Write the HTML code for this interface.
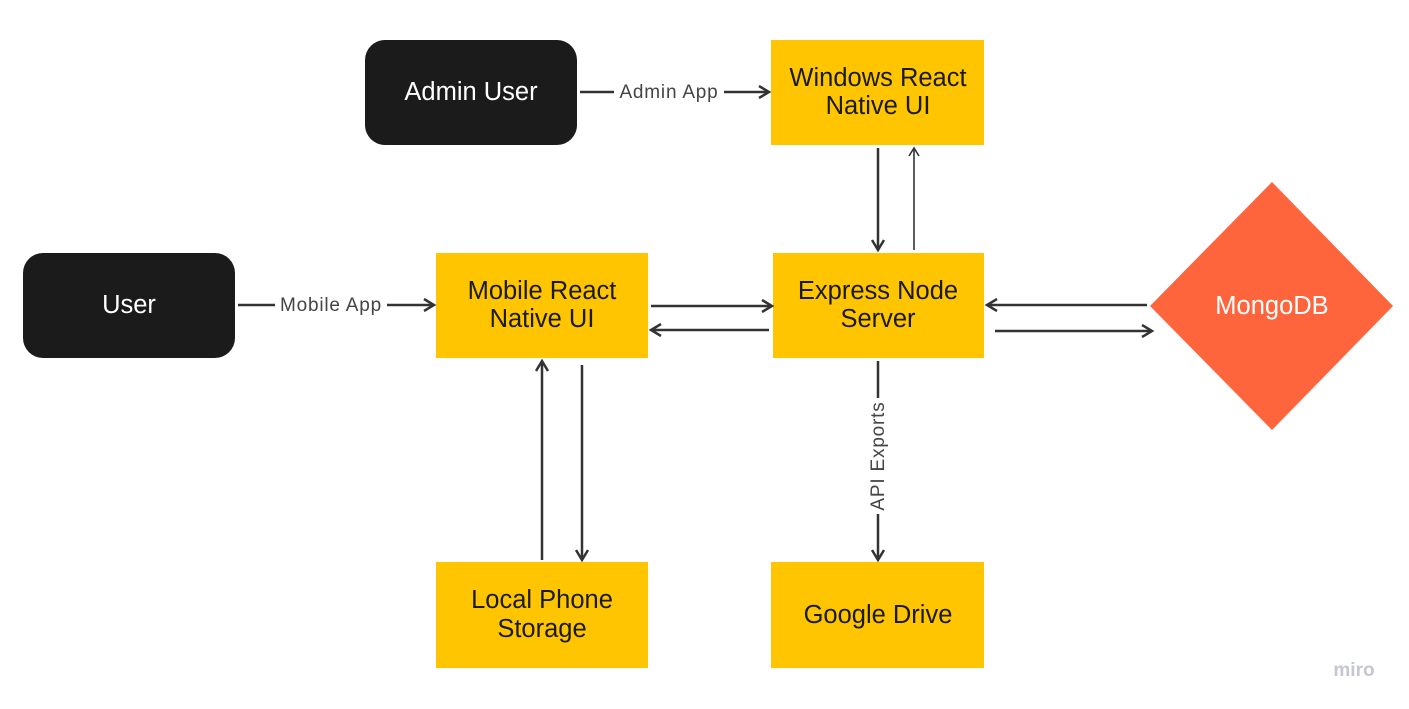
<!DOCTYPE html>
<html><head><meta charset="utf-8"><style>
html,body{margin:0;padding:0;background:#fff;}
svg{display:block;font-family:"Liberation Sans",sans-serif;}
</style></head><body>
<svg width="1409" height="709" viewBox="0 0 1409 709" xmlns="http://www.w3.org/2000/svg">
<defs>
<marker id="a" markerWidth="14" markerHeight="14" refX="11" refY="7" orient="auto" markerUnits="userSpaceOnUse">
<path d="M1,1 L11,7 L1,13" fill="none" stroke="#333" stroke-width="2.5"/>
</marker>
<marker id="t" markerWidth="14" markerHeight="14" refX="11" refY="7" orient="auto" markerUnits="userSpaceOnUse">
<path d="M3,2 L11,7 L3,12" fill="none" stroke="#333" stroke-width="1.6"/>
</marker>
</defs>
<rect width="1409" height="709" fill="#fff"/>
<rect x="365" y="40" width="212" height="105" rx="20" fill="#1b1b1b"/>
<text x="471" y="100" text-anchor="middle" font-size="25.5" fill="#fff">Admin User</text>
<rect x="23" y="253" width="212" height="105" rx="20" fill="#1b1b1b"/>
<text x="129" y="313" text-anchor="middle" font-size="25.5" fill="#fff">User</text>
<rect x="771" y="40" width="213" height="105" fill="#ffc500"/>
<text x="878" y="86" text-anchor="middle" font-size="25.5" fill="#1a1a1a">Windows React</text>
<text x="878" y="114" text-anchor="middle" font-size="25.5" fill="#1a1a1a">Native UI</text>
<rect x="436" y="253" width="212" height="105" fill="#ffc500"/>
<text x="542" y="299" text-anchor="middle" font-size="25.5" fill="#1a1a1a">Mobile React</text>
<text x="542" y="327" text-anchor="middle" font-size="25.5" fill="#1a1a1a">Native UI</text>
<rect x="773" y="253" width="211" height="105" fill="#ffc500"/>
<text x="878" y="299" text-anchor="middle" font-size="25.5" fill="#1a1a1a">Express Node</text>
<text x="878" y="327" text-anchor="middle" font-size="25.5" fill="#1a1a1a">Server</text>
<rect x="436" y="562" width="212" height="106" fill="#ffc500"/>
<text x="542" y="608" text-anchor="middle" font-size="25.5" fill="#1a1a1a">Local Phone</text>
<text x="542" y="637" text-anchor="middle" font-size="25.5" fill="#1a1a1a">Storage</text>
<rect x="771" y="562" width="213" height="106" fill="#ffc500"/>
<text x="878" y="623" text-anchor="middle" font-size="25.5" fill="#1a1a1a">Google Drive</text>
<polygon points="1272,182 1393,306 1272,430 1150,306" fill="#ff653d"/>
<text x="1272" y="314" text-anchor="middle" font-size="25.5" fill="#fff">MongoDB</text>
<g stroke="#333" stroke-width="2.5" fill="none">
<line x1="580" y1="92" x2="769" y2="92" marker-end="url(#a)"/>
<line x1="238" y1="305" x2="434" y2="305" marker-end="url(#a)"/>
<line x1="878" y1="148" x2="878" y2="250" marker-end="url(#a)"/>
<line x1="914" y1="250" x2="914" y2="148" stroke-width="1.6" marker-end="url(#t)"/>
<line x1="651" y1="306" x2="772" y2="306" marker-end="url(#a)"/>
<line x1="769" y1="330" x2="651" y2="330" marker-end="url(#a)"/>
<line x1="1147" y1="305" x2="987" y2="305" marker-end="url(#a)"/>
<line x1="995" y1="331" x2="1152" y2="331" marker-end="url(#a)"/>
<line x1="878" y1="361" x2="878" y2="560" marker-end="url(#a)"/>
<line x1="542" y1="560" x2="542" y2="361" marker-end="url(#a)"/>
<line x1="582" y1="365" x2="582" y2="560" marker-end="url(#a)"/>
</g>
<rect x="614" y="80" width="110" height="24" fill="#fff"/>
<text x="669" y="98" text-anchor="middle" font-size="19" letter-spacing="0.8" fill="#444">Admin App</text>
<rect x="275" y="293" width="112" height="24" fill="#fff"/>
<text x="331" y="311" text-anchor="middle" font-size="19" letter-spacing="0.8" fill="#444">Mobile App</text>
<rect x="866" y="398" width="24" height="116" fill="#fff"/>
<text transform="translate(884,456) rotate(-90)" text-anchor="middle" font-size="19" letter-spacing="0.8" fill="#444">API Exports</text>
<text x="1354" y="676" text-anchor="middle" font-size="19" font-weight="bold" fill="#c4c7d0">miro</text>
</svg>
</body></html>
